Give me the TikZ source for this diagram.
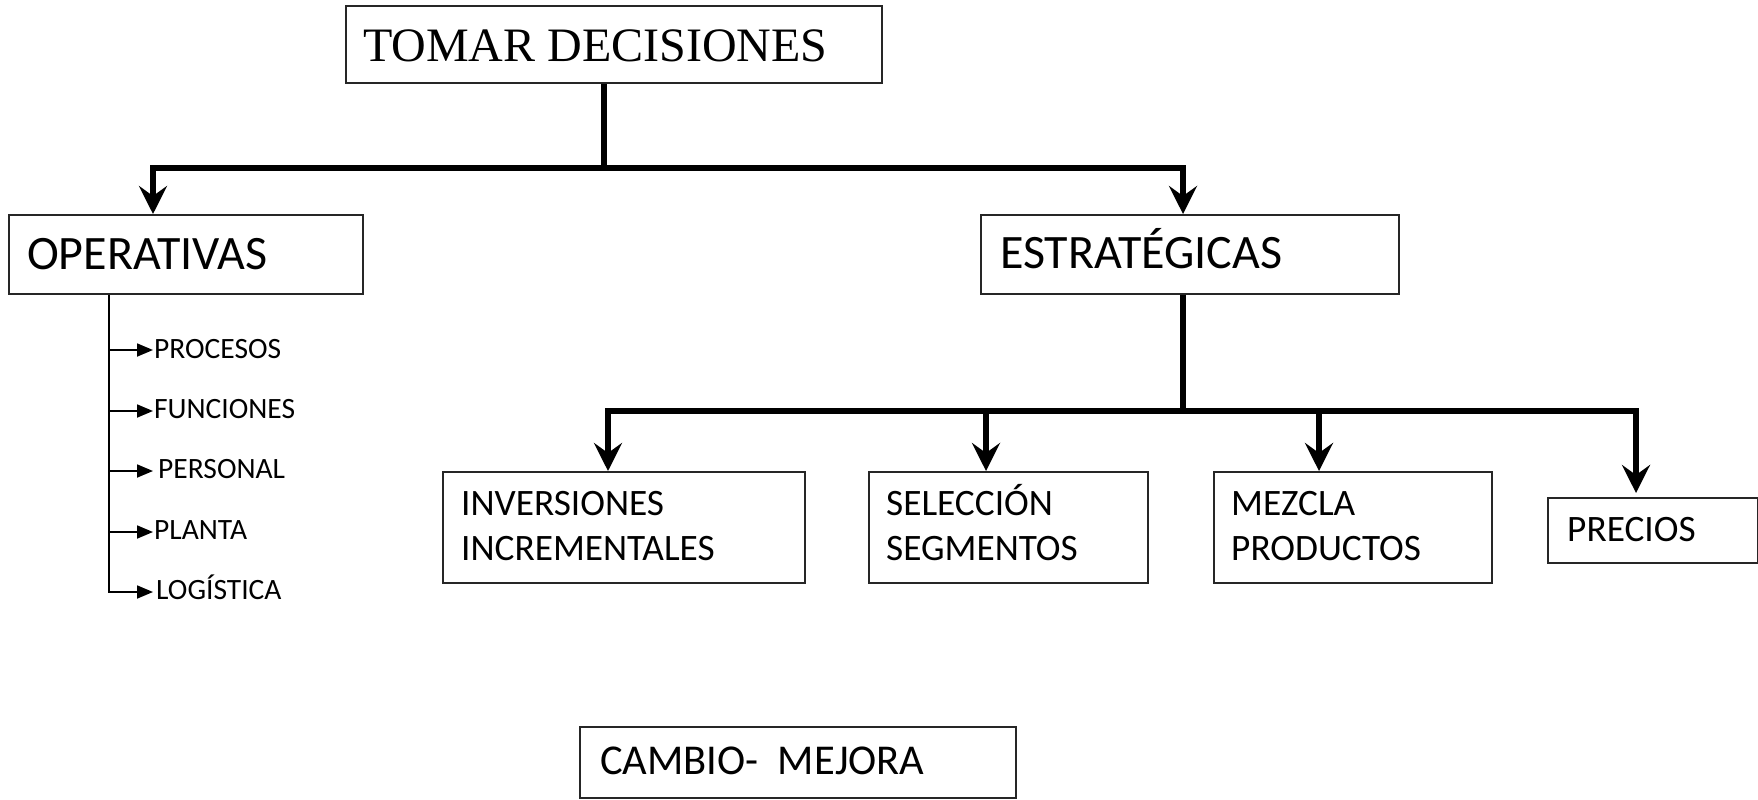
\documentclass[tikz,border=0pt]{standalone}
\usepackage{fontspec}
\setmainfont{Carlito}
\newfontfamily\timesf{Liberation Serif}
\usetikzlibrary{arrows.meta}
\begin{document}
\begin{tikzpicture}[x=1pt,y=-1pt,
  box/.style={draw=black!85, line width=1.6pt, rectangle, inner sep=0pt, anchor=north west},
  txt/.style={inner sep=0pt, anchor=base west},
  bigtxt/.style={txt, font=\fontsize{48}{57}\selectfont},
  midtxt/.style={txt, font=\fontsize{37.3}{45}\selectfont},
  smalltxt/.style={txt, font=\fontsize{29.5}{35}\selectfont},
  thk/.style={line width=5.5pt},
  bigarrow/.style={thk, -{Stealth[length=28pt,width=28pt,inset=10pt]}},
  thinline/.style={line width=1.8pt},
  smallarrow/.style={thinline, -{Triangle[length=16pt,width=13pt]}}]
\useasboundingbox (0,0) rectangle (1758,800);
\fill[white] (0,0) rectangle (1758,800);

% boxes
\node[box, minimum width=536pt, minimum height=77pt] (tomar) at (345,5) {};
\node[box, minimum width=354pt, minimum height=79pt] (oper) at (8,214) {};
\node[box, minimum width=418pt, minimum height=79pt] (estr) at (980,214) {};
\node[box, minimum width=362pt, minimum height=111pt] (inv) at (442,471) {};
\node[box, minimum width=279pt, minimum height=111pt] (sel) at (868,471) {};
\node[box, minimum width=278pt, minimum height=111pt] (mez) at (1213,471) {};
\node[box, minimum width=210pt, minimum height=65pt] (pre) at (1547,497) {};
\node[box, minimum width=436pt, minimum height=71pt] (cam) at (579,726) {};

% texts
\node[txt, font=\timesf\fontsize{48}{57}\selectfont] (tomar-t) at (363,62) {TOMAR DECISIONES};
\node[bigtxt] (oper-t) at (27,269) {OPERATIVAS};
\node[bigtxt] (estr-t) at (1000,268) {ESTRATÉGICAS};
\node[midtxt] (inv-t) at (461,515) {\begin{tabular}[t]{@{}l@{}}INVERSIONES\\INCREMENTALES\end{tabular}};
\node[midtxt] (sel-t) at (886,515) {\begin{tabular}[t]{@{}l@{}}SELECCIÓN\\SEGMENTOS\end{tabular}};
\node[midtxt] (mez-t) at (1231,515) {\begin{tabular}[t]{@{}l@{}}MEZCLA\\PRODUCTOS\end{tabular}};
\node[midtxt] (pre-t) at (1567,541) {PRECIOS};
\node[txt, font=\fontsize{42.5}{51}\selectfont] (cam-t) at (600,774) {CAMBIO-\ \ MEJORA};

\node[smalltxt] (proc) at (154,358) {PROCESOS};
\node[smalltxt] (func) at (154,418) {FUNCIONES};
\node[smalltxt] (pers) at (158,478) {PERSONAL};
\node[smalltxt] (plan) at (154,539) {PLANTA};
\node[smalltxt] (logi) at (156,599) {LOGÍSTICA};

% coordinates
\coordinate (j1) at (604,168);
\coordinate (xo) at (153,0);
\coordinate (xe) at (1183,0);
\coordinate (j2) at (1183,411);
\coordinate (x1) at (608,0);
\coordinate (x2) at (986,0);
\coordinate (x3) at (1319,0);
\coordinate (x4) at (1636,0);
\coordinate (xv) at (109,0);
\coordinate (tip) at (153,0);
\coordinate (b1) at (109,350);
\coordinate (b2) at (109,411);
\coordinate (b3) at (109,471);
\coordinate (b4) at (109,532);
\coordinate (b5) at (109,592);

% main connectors
\draw[thk] (tomar.south -| j1) -- (j1);
\draw[bigarrow] (j1) -| (xo |- oper.north);
\draw[bigarrow] (j1) -| (xe |- estr.north);
\draw[thk] (estr.south -| j2) -- (j2);
\draw[bigarrow] (j2) -| (x1 |- inv.north);
\draw[bigarrow] (j2) -| (x2 |- sel.north);
\draw[bigarrow] (j2) -| (x3 |- mez.north);
\draw[bigarrow] (j2) -| ([yshift=4pt]x4 |- pre.north);

% operativas branches
\draw[smallarrow] (xv |- oper.south) |- (tip |- b5);
\draw[smallarrow] (b1) -- (tip |- b1);
\draw[smallarrow] (b2) -- (tip |- b2);
\draw[smallarrow] (b3) -- (tip |- b3);
\draw[smallarrow] (b4) -- (tip |- b4);
\end{tikzpicture}
\end{document}
